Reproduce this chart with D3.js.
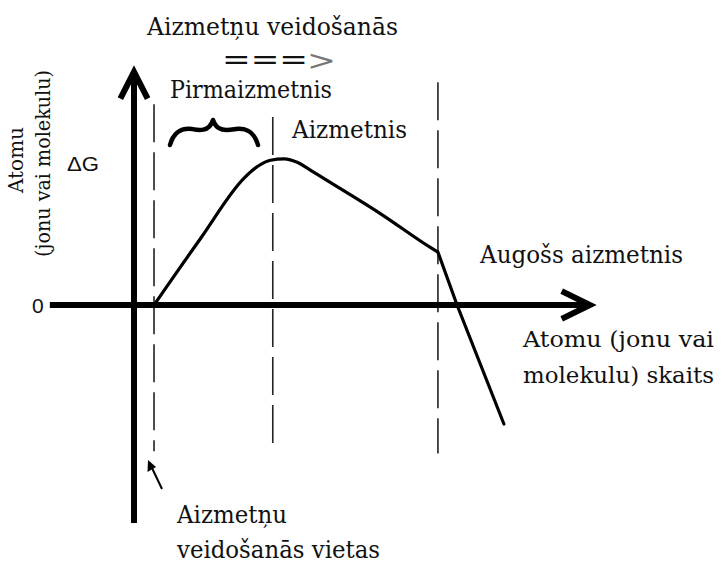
<!DOCTYPE html>
<html>
<head>
<meta charset="utf-8">
<script src="https://cdn.jsdelivr.net/npm/d3@7"></script>
<style>
  html, body { margin: 0; padding: 0; background: #fff; }
  svg { display: block; }
</style>
</head>
<body>
<svg id="chart" width="721" height="565"></svg>
<script>
// Free energy of a cluster versus the number of atoms it contains
const clusterSize = [0.44, 1.47, 2.42, 2.73, 3.00, 3.30, 3.60, 3.85, 4.26, 5.43, 6.53, 6.68];
const deltaG      = [0.00, 2.89, 5.47, 5.99, 6.24, 6.30, 6.14, 5.85, 5.35, 3.92, 2.46, 2.28];
// beyond the critical size the energy falls steeply
const dropSize    = [6.68, 7.10, 8.13];
const dropG       = [2.28, 0.00, -5.13];
// vertical guides: nucleation site, embryo peak, growing nucleus
const guideX      = [0.44, 3.05, 6.68];
const guideTop    = [8.65, 8.1, 9.6];
const guideBottom = [-6.3, -6.25, -6.4];

const yLabelLines  = ["Atomu", "(jonu vai molekulu)"];
const xLabelLines  = ["Atomu (jonu vai", "molekulu) skaits"];
const titleText    = "Aizmetņu veidošanās";
const embryoLabel  = "Pirmaizmetnis";
const nucleusLabel = "Aizmetnis";
const growingLabel = "Augošs aizmetnis";
const siteLines    = ["Aizmetņu", "veidošanās vietas"];
const zeroLabel    = "0";
const energyLabel  = "ΔG";

const SERIF = "DejaVu Serif, Liberation Serif, serif";
const SANS = "Liberation Sans, Arial, sans-serif";

const svg = d3.select("#chart");

const x = d3.scaleLinear().domain([0, 10]).range([134, 589]);
const y = d3.scaleLinear().domain([0, 10]).range([305, 73]);

// dashed guide lines
svg.append("g").selectAll("line")
  .data(guideX)
  .join("line")
  .attr("x1", d => x(d)).attr("x2", d => x(d))
  .attr("y1", (d, i) => y(guideTop[i]))
  .attr("y2", (d, i) => y(guideBottom[i]))
  .attr("stroke", "#222")
  .attr("stroke-width", 1.6)
  .attr("stroke-dasharray", "38,10");

// axes
const axes = svg.append("g").attr("stroke", "#000").attr("fill", "none")
  .attr("stroke-linecap", "butt");
axes.append("line")
  .attr("x1", x(-1.85)).attr("x2", x(9.95))
  .attr("y1", y(0)).attr("y2", y(0))
  .attr("stroke-width", 6);
axes.append("line")
  .attr("x1", x(0)).attr("x2", x(0))
  .attr("y1", y(-9.4)).attr("y2", y(9.85))
  .attr("stroke-width", 6);
// arrowheads
axes.append("path")
  .attr("d", `M${x(-0.3)},${y(8.9)} L${x(0)},${y(10.05)} L${x(0.3)},${y(8.9)}`)
  .attr("stroke-width", 6).attr("stroke-linejoin", "miter");
axes.append("path")
  .attr("d", `M${x(9.4)},${y(0.6)} L${x(10.02)},${y(0)} L${x(9.4)},${y(-0.6)}`)
  .attr("stroke-width", 6).attr("stroke-linejoin", "miter");

// energy curve
const rise = clusterSize.map((d, i) => [d, deltaG[i]]);
const drop = dropSize.map((d, i) => [d, dropG[i]]);
const line = d3.line().x(d => x(d[0])).y(d => y(d[1]));
svg.append("path")
  .attr("d", line.curve(d3.curveMonotoneX)(rise))
  .attr("fill", "none").attr("stroke", "#000").attr("stroke-width", 3.2)
  .attr("stroke-linejoin", "round");
svg.append("path")
  .attr("d", line.curve(d3.curveLinear)(drop))
  .attr("fill", "none").attr("stroke", "#000").attr("stroke-width", 3.2)
  .attr("stroke-linecap", "round");

// brace spanning the embryo region
const bx0 = 170, bx1 = 258, bm = 213;
svg.append("path")
  .attr("d", `M${bx0},145 C${bx0 + 4},131 ${bx0 + 12},128 ${bx0 + 22},129
              C${bm - 16},130 ${bm - 4},133 ${bm},120
              C${bm + 4},133 ${bm + 16},130 ${bx1 - 22},129
              C${bx1 - 12},128 ${bx1 - 4},131 ${bx1},145`)
  .attr("fill", "none").attr("stroke", "#000").attr("stroke-width", 4.5)
  .attr("stroke-linecap", "round").attr("stroke-linejoin", "round");

// small arrow pointing at the nucleation site
svg.append("line")
  .attr("x1", 162).attr("y1", 489).attr("x2", 152).attr("y2", 468)
  .attr("stroke", "#000").attr("stroke-width", 2);
svg.append("path")
  .attr("d", "M148,460 L147.5,472 L156,467 Z").attr("fill", "#000");

// text
function label(txt, px, py, size, width) {
  const t = svg.append("text")
    .style("font-family", SERIF).attr("fill", "#111")
    .attr("x", px).attr("y", py).style("font-size", size + "px").text(txt);
  if (width) t.attr("textLength", width).attr("lengthAdjust", "spacingAndGlyphs");
  return t;
}
label(titleText, 147, 35, 24, 251);
label("===", 222, 69, 28, 86);
label(">", 307, 70, 27, 29).attr("fill", "#777");
label(embryoLabel, 170, 98, 24, 162);
label(nucleusLabel, 292, 138, 24, 115);
label(growingLabel, 480, 263, 24, 203);
xLabelLines.forEach((s, i) => label(s, 523, 347 + i * 36, 23, 191));
label(siteLines[0], 177, 523, 24, 110);
label(siteLines[1], 177, 558, 24, 203);

// rotated axis title
const yCenters = [[23, 160, 66], [50, 163.5, 187]];
yLabelLines.forEach((s, i) => {
  const [cx, cy, w] = yCenters[i];
  svg.append("text")
    .style("font-family", SERIF).attr("fill", "#111")
    .attr("transform", `translate(${cx},${cy}) rotate(-90)`)
    .attr("text-anchor", "middle").style("font-size", "20px")
    .attr("textLength", w).attr("lengthAdjust", "spacingAndGlyphs")
    .text(s);
});

svg.append("text").style("font-family", SANS).attr("fill", "#111")
  .attr("x", 67).attr("y", 171).style("font-size", "21px")
  .attr("textLength", 32).attr("lengthAdjust", "spacingAndGlyphs").text(energyLabel);
svg.append("text").style("font-family", SANS).attr("fill", "#111")
  .attr("x", 32).attr("y", y(0) + 8).style("font-size", "21px").text(zeroLabel);
</script>
</body>
</html>
